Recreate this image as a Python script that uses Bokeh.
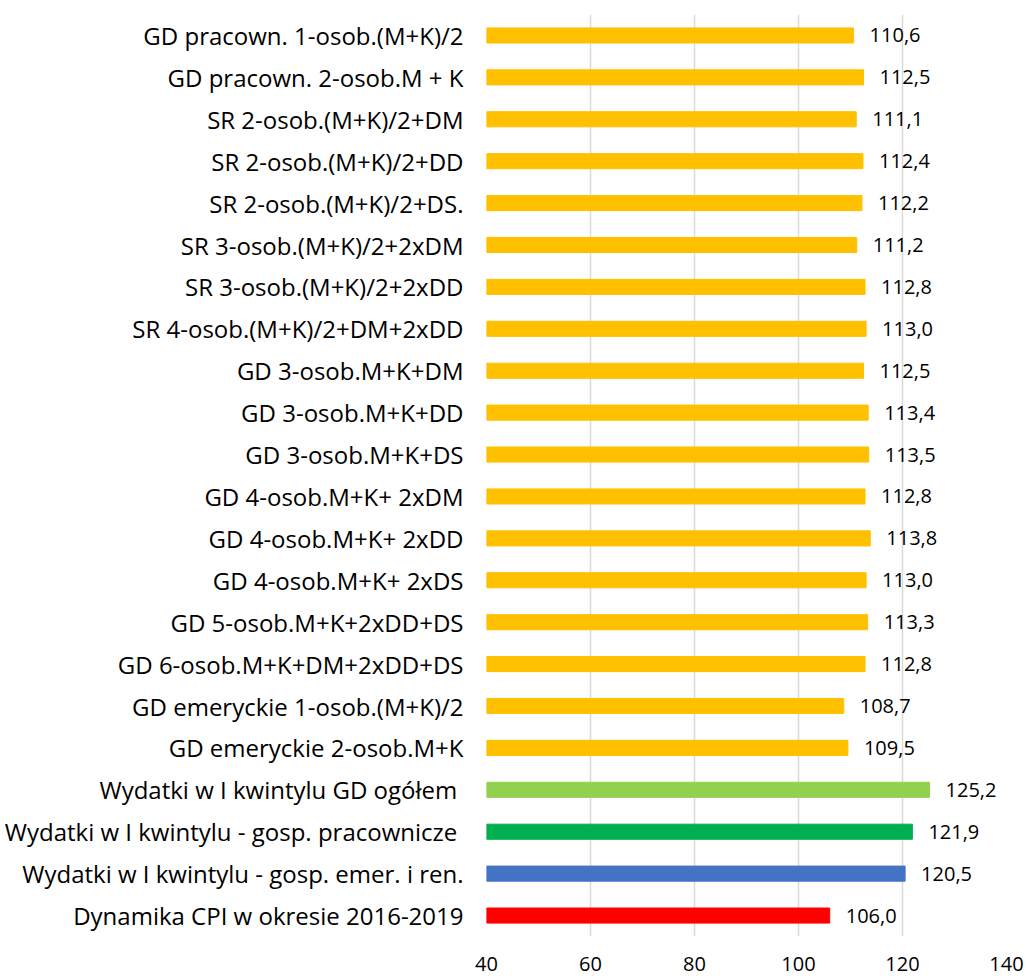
from bokeh.plotting import figure
from bokeh.models import ColumnDataSource, FactorRange, FixedTicker, Range1d
from bokeh.core.properties import value
from bokeh.embed import file_html
from bokeh.resources import INLINE

categories = [
    "GD pracown. 1-osob.(M+K)/2",
    "GD pracown. 2-osob.M + K",
    "SR 2-osob.(M+K)/2+DM",
    "SR 2-osob.(M+K)/2+DD",
    "SR 2-osob.(M+K)/2+DS.",
    "SR 3-osob.(M+K)/2+2xDM",
    "SR 3-osob.(M+K)/2+2xDD",
    "SR 4-osob.(M+K)/2+DM+2xDD",
    "GD 3-osob.M+K+DM",
    "GD 3-osob.M+K+DD",
    "GD 3-osob.M+K+DS",
    "GD 4-osob.M+K+ 2xDM",
    "GD 4-osob.M+K+ 2xDD",
    "GD 4-osob.M+K+ 2xDS",
    "GD 5-osob.M+K+2xDD+DS",
    "GD 6-osob.M+K+DM+2xDD+DS",
    "GD emeryckie 1-osob.(M+K)/2",
    "GD emeryckie 2-osob.M+K",
    "Wydatki w I kwintylu GD ogółem ",
    "Wydatki w I kwintylu - gosp. pracownicze ",
    "Wydatki w I kwintylu - gosp. emer. i ren.",
    "Dynamika CPI w okresie 2016-2019",
]
values = [110.6, 112.5, 111.1, 112.4, 112.2, 111.2, 112.8, 113.0, 112.5, 113.4,
          113.5, 112.8, 113.8, 113.0, 113.3, 112.8, 108.7, 109.5, 125.2, 121.9,
          120.5, 106.0]
colors = ["#FFC000"] * 18 + ["#92D050", "#00B050", "#4472C4", "#FF0000"]
x_ticks = [40, 60, 80, 100, 120, 140]

labels = [f"{v:.1f}".replace(".", ",") for v in values]
src = ColumnDataSource(dict(cat=categories, val=values, color=colors,
                            left=[40] * len(values), lab=labels))

FONT = "Open Sans"
p = figure(width=1026, height=978, output_backend="svg", toolbar_location=None,
           y_range=FactorRange(factors=categories[::-1]),
           x_range=Range1d(40, 140))
p.min_border_top = 14
p.min_border_right = 20
p.min_border_bottom = 42
p.min_border_left = 486
p.outline_line_color = None
p.background_fill_color = "white"
p.border_fill_color = "white"

p.hbar(y="cat", left="left", right="val", height=0.36, color="color", source=src)
p.text(x="val", y="cat", text="lab", source=src, x_offset=16,
       text_font=value(FONT), text_font_size="20px", text_baseline="middle",
       text_color="#000000")

p.xaxis.ticker = FixedTicker(ticks=x_ticks)
p.xaxis.axis_line_color = None
p.xaxis.major_tick_line_color = None
p.xaxis.minor_tick_line_color = None
p.xaxis.major_label_text_font = FONT
p.xaxis.major_label_text_font_size = "20px"
p.xaxis.major_label_text_color = "#000000"
p.xaxis.major_label_standoff = 14

p.yaxis.axis_line_color = None
p.yaxis.major_tick_line_color = None
p.yaxis.minor_tick_line_color = None
p.yaxis.major_label_text_font = FONT
p.yaxis.major_label_text_font_size = "24px"
p.yaxis.major_label_text_color = "#000000"
p.yaxis.major_label_standoff = 17

p.xgrid.grid_line_color = "#D9D9D9"
p.xgrid.grid_line_width = 1.5
p.ygrid.grid_line_color = None

open("out.html", "w").write(file_html(p, INLINE))
